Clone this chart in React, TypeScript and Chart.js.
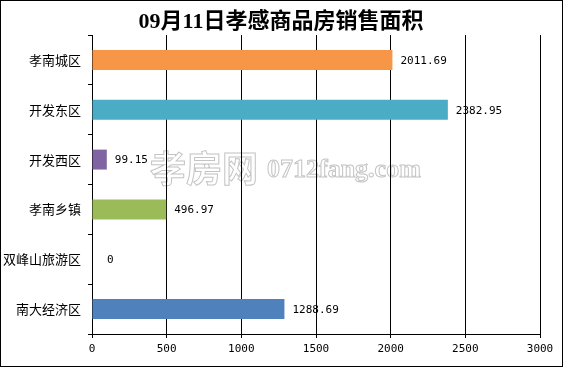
import React, { useEffect, useRef } from "react";
import { Chart, registerables } from "chart.js";

Chart.register(...registerables);

const titleText = "09月11日孝感商品房销售面积";
const categories = ["孝南城区", "开发东区", "开发西区", "孝南乡镇", "双峰山旅游区", "南大经济区"];
const areaValues = [2011.69, 2382.95, 99.15, 496.97, 0, 1288.69];
const barColors = ["#F79646", "#4BACC6", "#8064A2", "#9BBB59", "#C0504D", "#4F81BD"];
const valueLabels = ["2011.69", "2382.95", "99.15", "496.97", "0", "1288.69"];
const watermarkCn = "孝房网";
const watermarkEn = "0712fang.com";

const decorPlugin = {
  id: "decor",
  beforeDraw(chart: any) {
    const ctx = chart.ctx;
    ctx.save();
    ctx.fillStyle = "#ffffff";
    ctx.fillRect(0, 0, chart.width, chart.height);
    ctx.strokeStyle = "#000000";
    ctx.lineWidth = 1;
    ctx.strokeRect(0.5, 0.5, 562, 366);
    // watermark
    ctx.strokeStyle = "#c4c4c4";
    ctx.lineWidth = 1;
    ctx.textBaseline = "middle";
    ctx.textAlign = "left";
    ctx.font = 'bold 36px "Noto Sans CJK SC"';
    ctx.strokeText(watermarkCn, 150, 168);
    ctx.font = 'bold 26px "Liberation Serif"';
    ctx.strokeText(watermarkEn, 267, 170);
    // title
    ctx.fillStyle = "#000000";
    ctx.textAlign = "center";
    ctx.font = 'bold 22px "Liberation Serif", "Noto Sans CJK SC"';
    ctx.fillText(titleText, 281, 22);
    ctx.restore();
  },
  afterDatasetsDraw(chart: any) {
    const ctx = chart.ctx;
    const meta = chart.getDatasetMeta(0);
    ctx.save();
    ctx.fillStyle = "#000000";
    ctx.font = '11px "DejaVu Sans Mono"';
    ctx.textAlign = "left";
    ctx.textBaseline = "middle";
    meta.data.forEach((bar: any, i: number) => {
      const gap = areaValues[i] === 0 ? 15 : 8;
      ctx.fillText(valueLabels[i], bar.x + gap, bar.y + 1);
    });
    ctx.restore();
  },
};

export default function App() {
  const ref = useRef<HTMLCanvasElement | null>(null);
  useEffect(() => {
    if (!ref.current) return;
    const chart = new Chart(ref.current, {
      type: "bar",
      data: {
        labels: categories,
        datasets: [
          {
            data: areaValues,
            backgroundColor: barColors,
            borderWidth: 0,
            barPercentage: 0.4,
            categoryPercentage: 1,
          },
        ],
      },
      options: {
        indexAxis: "y",
        responsive: false,
        animation: false,
        layout: { padding: { left: 0, top: 35, right: 23, bottom: 0 } },
        plugins: {
          legend: { display: false },
          title: { display: false },
          tooltip: { enabled: false },
        },
        scales: {
          y: {
            type: "category",
            grid: {
              offset: true,
              drawOnChartArea: false,
              color: "#000000",
              tickLength: 4,
            },
            border: { display: true, color: "#000000" },
            ticks: {
              color: "#000000",
              font: { family: '"Noto Sans CJK SC"', size: 13 },
              padding: 7,
            },
            afterFit(scale: any) {
              scale.width = 92;
            },
          },
          x: {
            min: 0,
            max: 3000,
            grid: { color: "#000000", tickLength: 4 },
            border: { display: true, color: "#000000" },
            ticks: {
              stepSize: 500,
              color: "#000000",
              font: { family: '"DejaVu Sans Mono"', size: 11 },
              padding: 5,
              maxRotation: 0,
              callback: (v: any) => String(v),
            },
            afterFit(scale: any) {
              scale.height = 34;
            },
          },
        },
      },
      plugins: [decorPlugin],
    });
    return () => chart.destroy();
  }, []);
  return (
    <div style={{ position: "absolute", left: 0, top: 0, width: 563, height: 368 }}>
      <canvas ref={ref} width={563} height={368} />
    </div>
  );
}
